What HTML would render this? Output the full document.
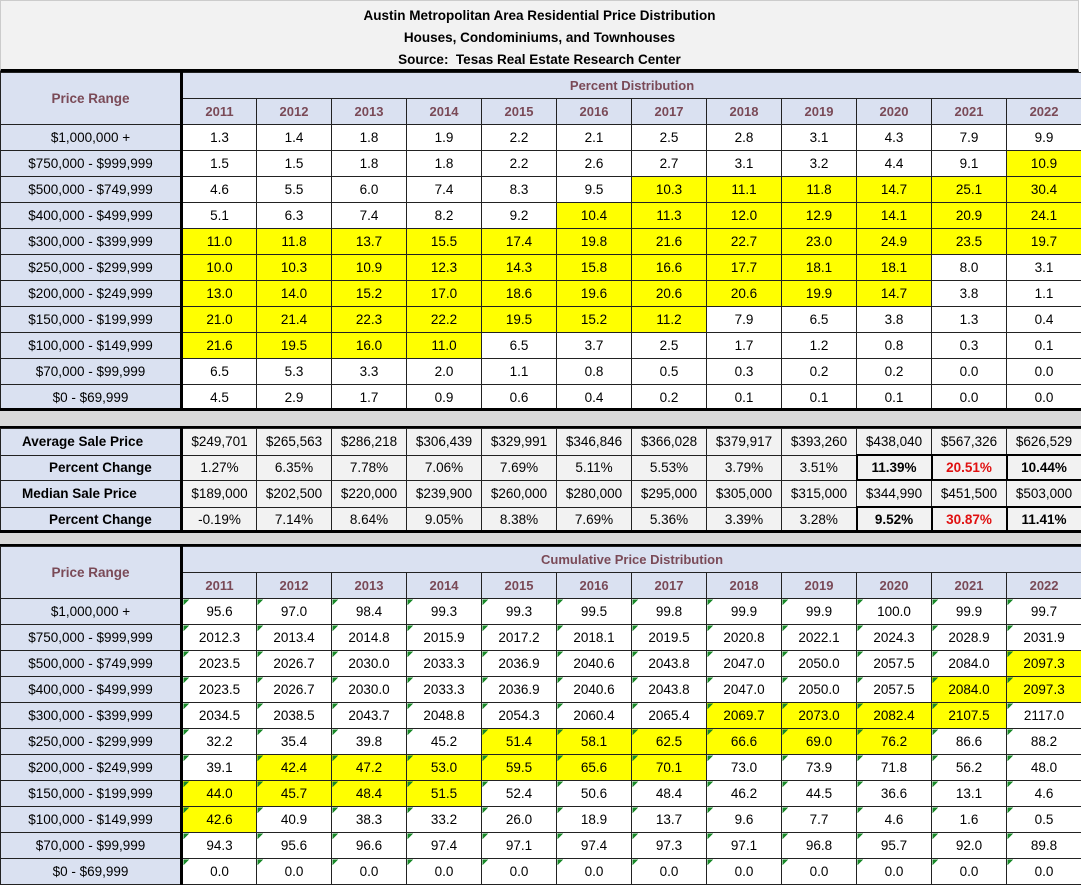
<!DOCTYPE html>
<html><head><meta charset="utf-8"><style>
body{margin:0;background:#fff;width:1081px;height:885px;overflow:hidden;font-family:"Liberation Sans",Arial,sans-serif;}
table{border-collapse:collapse;table-layout:fixed;width:1081px;position:absolute;left:0;}
td{border:1px solid #222;text-align:center;font-size:13.5px;height:25px;padding:0;color:#000;overflow:hidden;white-space:nowrap;}
td.l{background:#dae1f1;border-right:3px solid #000;}
td.h{background:#dae1f1;color:#7a4a57;font-weight:bold;font-size:13px;}
td.y{background:#ffff00;}
td.g{background:#f2f2f2;}
td.b{font-weight:bold;border:2px solid #000;}
td.r{color:#e01010;}
tr.s td{height:23px;}
.c td.d{background-image:linear-gradient(135deg,#1a8a2a 0,#1a8a2a 4px,transparent 4px);}
.title{position:absolute;left:0;top:0;width:1079px;background:#f2f2f2;border:1px solid #ccc;border-bottom:3px solid #000;text-align:center;font-weight:bold;font-size:13.5px;line-height:22px;padding-top:4px;box-sizing:border-box;height:72px;}
.sep{position:absolute;left:0;width:1081px;background:#d9d9d9;border-top:3px solid #000;border-bottom:3px solid #000;box-sizing:border-box;}
</style></head><body>
<div class="title">Austin Metropolitan Area Residential Price Distribution<br>Houses, Condominiums, and Townhouses<br>Source:&nbsp; Tesas Real Estate Research Center</div>

<table style="top:72px">
<colgroup><col style="width:181px"><col span="12" style="width:75px"></colgroup>
<tr><td class="h" rowspan="2" style="border-right:3px solid #000;font-size:13.5px">Price Range</td><td class="h" colspan="12" style="height:25px">Percent Distribution</td></tr>
<tr><td class="h">2011</td><td class="h">2012</td><td class="h">2013</td><td class="h">2014</td><td class="h">2015</td><td class="h">2016</td><td class="h">2017</td><td class="h">2018</td><td class="h">2019</td><td class="h">2020</td><td class="h">2021</td><td class="h">2022</td></tr>
<tr><td class="l">$1,000,000 +</td><td>1.3</td><td>1.4</td><td>1.8</td><td>1.9</td><td>2.2</td><td>2.1</td><td>2.5</td><td>2.8</td><td>3.1</td><td>4.3</td><td>7.9</td><td>9.9</td></tr>
<tr><td class="l">$750,000 - $999,999</td><td>1.5</td><td>1.5</td><td>1.8</td><td>1.8</td><td>2.2</td><td>2.6</td><td>2.7</td><td>3.1</td><td>3.2</td><td>4.4</td><td>9.1</td><td class="y">10.9</td></tr>
<tr><td class="l">$500,000 - $749,999</td><td>4.6</td><td>5.5</td><td>6.0</td><td>7.4</td><td>8.3</td><td>9.5</td><td class="y">10.3</td><td class="y">11.1</td><td class="y">11.8</td><td class="y">14.7</td><td class="y">25.1</td><td class="y">30.4</td></tr>
<tr><td class="l">$400,000 - $499,999</td><td>5.1</td><td>6.3</td><td>7.4</td><td>8.2</td><td>9.2</td><td class="y">10.4</td><td class="y">11.3</td><td class="y">12.0</td><td class="y">12.9</td><td class="y">14.1</td><td class="y">20.9</td><td class="y">24.1</td></tr>
<tr><td class="l">$300,000 - $399,999</td><td class="y">11.0</td><td class="y">11.8</td><td class="y">13.7</td><td class="y">15.5</td><td class="y">17.4</td><td class="y">19.8</td><td class="y">21.6</td><td class="y">22.7</td><td class="y">23.0</td><td class="y">24.9</td><td class="y">23.5</td><td class="y">19.7</td></tr>
<tr><td class="l">$250,000 - $299,999</td><td class="y">10.0</td><td class="y">10.3</td><td class="y">10.9</td><td class="y">12.3</td><td class="y">14.3</td><td class="y">15.8</td><td class="y">16.6</td><td class="y">17.7</td><td class="y">18.1</td><td class="y">18.1</td><td>8.0</td><td>3.1</td></tr>
<tr><td class="l">$200,000 - $249,999</td><td class="y">13.0</td><td class="y">14.0</td><td class="y">15.2</td><td class="y">17.0</td><td class="y">18.6</td><td class="y">19.6</td><td class="y">20.6</td><td class="y">20.6</td><td class="y">19.9</td><td class="y">14.7</td><td>3.8</td><td>1.1</td></tr>
<tr><td class="l">$150,000 - $199,999</td><td class="y">21.0</td><td class="y">21.4</td><td class="y">22.3</td><td class="y">22.2</td><td class="y">19.5</td><td class="y">15.2</td><td class="y">11.2</td><td>7.9</td><td>6.5</td><td>3.8</td><td>1.3</td><td>0.4</td></tr>
<tr><td class="l">$100,000 - $149,999</td><td class="y">21.6</td><td class="y">19.5</td><td class="y">16.0</td><td class="y">11.0</td><td>6.5</td><td>3.7</td><td>2.5</td><td>1.7</td><td>1.2</td><td>0.8</td><td>0.3</td><td>0.1</td></tr>
<tr><td class="l">$70,000 - $99,999</td><td>6.5</td><td>5.3</td><td>3.3</td><td>2.0</td><td>1.1</td><td>0.8</td><td>0.5</td><td>0.3</td><td>0.2</td><td>0.2</td><td>0.0</td><td>0.0</td></tr>
<tr><td class="l">$0 - $69,999</td><td>4.5</td><td>2.9</td><td>1.7</td><td>0.9</td><td>0.6</td><td>0.4</td><td>0.2</td><td>0.1</td><td>0.1</td><td>0.1</td><td>0.0</td><td>0.0</td></tr>
</table>

<div class="sep" style="top:408px;height:21px"></div>

<table style="top:428px">
<colgroup><col style="width:181px"><col span="12" style="width:75px"></colgroup>
<tr><td class="l" style="font-weight:bold;text-align:left;padding-left:21px">Average Sale Price</td><td class="g">$249,701</td><td class="g">$265,563</td><td class="g">$286,218</td><td class="g">$306,439</td><td class="g">$329,991</td><td class="g">$346,846</td><td class="g">$366,028</td><td class="g">$379,917</td><td class="g">$393,260</td><td class="g">$438,040</td><td class="g">$567,326</td><td class="g">$626,529</td></tr>
<tr class="s"><td class="l" style="font-weight:bold;text-align:left;padding-left:48px">Percent Change</td><td class="g">1.27%</td><td class="g">6.35%</td><td class="g">7.78%</td><td class="g">7.06%</td><td class="g">7.69%</td><td class="g">5.11%</td><td class="g">5.53%</td><td class="g">3.79%</td><td class="g">3.51%</td><td class="g b">11.39%</td><td class="g b r">20.51%</td><td class="g b">10.44%</td></tr>
<tr><td class="l" style="font-weight:bold;text-align:left;padding-left:21px">Median Sale Price</td><td class="g">$189,000</td><td class="g">$202,500</td><td class="g">$220,000</td><td class="g">$239,900</td><td class="g">$260,000</td><td class="g">$280,000</td><td class="g">$295,000</td><td class="g">$305,000</td><td class="g">$315,000</td><td class="g">$344,990</td><td class="g">$451,500</td><td class="g">$503,000</td></tr>
<tr class="s"><td class="l" style="font-weight:bold;text-align:left;padding-left:48px">Percent Change</td><td class="g">-0.19%</td><td class="g">7.14%</td><td class="g">8.64%</td><td class="g">9.05%</td><td class="g">8.38%</td><td class="g">7.69%</td><td class="g">5.36%</td><td class="g">3.39%</td><td class="g">3.28%</td><td class="g b">9.52%</td><td class="g b r">30.87%</td><td class="g b">11.41%</td></tr>
</table>

<div class="sep" style="top:530px;height:17px"></div>

<table class="c" style="top:546px">
<colgroup><col style="width:181px"><col span="12" style="width:75px"></colgroup>
<tr><td class="h" rowspan="2" style="border-right:3px solid #000;font-size:13.5px">Price Range</td><td class="h" colspan="12">Cumulative Price Distribution</td></tr>
<tr><td class="h">2011</td><td class="h">2012</td><td class="h">2013</td><td class="h">2014</td><td class="h">2015</td><td class="h">2016</td><td class="h">2017</td><td class="h">2018</td><td class="h">2019</td><td class="h">2020</td><td class="h">2021</td><td class="h">2022</td></tr>
<tr><td class="l">$1,000,000 +</td><td class="d">95.6</td><td class="d">97.0</td><td class="d">98.4</td><td class="d">99.3</td><td class="d">99.3</td><td class="d">99.5</td><td class="d">99.8</td><td class="d">99.9</td><td class="d">99.9</td><td class="d">100.0</td><td class="d">99.9</td><td class="d">99.7</td></tr>
<tr><td class="l">$750,000 - $999,999</td><td class="d">2012.3</td><td class="d">2013.4</td><td class="d">2014.8</td><td class="d">2015.9</td><td class="d">2017.2</td><td class="d">2018.1</td><td class="d">2019.5</td><td class="d">2020.8</td><td class="d">2022.1</td><td class="d">2024.3</td><td class="d">2028.9</td><td class="d">2031.9</td></tr>
<tr><td class="l">$500,000 - $749,999</td><td class="d">2023.5</td><td class="d">2026.7</td><td class="d">2030.0</td><td class="d">2033.3</td><td class="d">2036.9</td><td class="d">2040.6</td><td class="d">2043.8</td><td class="d">2047.0</td><td class="d">2050.0</td><td class="d">2057.5</td><td class="d">2084.0</td><td class="d y">2097.3</td></tr>
<tr><td class="l">$400,000 - $499,999</td><td class="d">2023.5</td><td class="d">2026.7</td><td class="d">2030.0</td><td class="d">2033.3</td><td class="d">2036.9</td><td class="d">2040.6</td><td class="d">2043.8</td><td class="d">2047.0</td><td class="d">2050.0</td><td class="d">2057.5</td><td class="d y">2084.0</td><td class="d y">2097.3</td></tr>
<tr><td class="l">$300,000 - $399,999</td><td class="d">2034.5</td><td class="d">2038.5</td><td class="d">2043.7</td><td class="d">2048.8</td><td class="d">2054.3</td><td class="d">2060.4</td><td class="d">2065.4</td><td class="d y">2069.7</td><td class="d y">2073.0</td><td class="d y">2082.4</td><td class="d y">2107.5</td><td class="d">2117.0</td></tr>
<tr><td class="l">$250,000 - $299,999</td><td class="d">32.2</td><td class="d">35.4</td><td class="d">39.8</td><td class="d">45.2</td><td class="d y">51.4</td><td class="d y">58.1</td><td class="d y">62.5</td><td class="d y">66.6</td><td class="d y">69.0</td><td class="d y">76.2</td><td class="d">86.6</td><td class="d">88.2</td></tr>
<tr><td class="l">$200,000 - $249,999</td><td class="d">39.1</td><td class="d y">42.4</td><td class="d y">47.2</td><td class="d y">53.0</td><td class="d y">59.5</td><td class="d y">65.6</td><td class="d y">70.1</td><td class="d">73.0</td><td class="d">73.9</td><td class="d">71.8</td><td class="d">56.2</td><td class="d">48.0</td></tr>
<tr><td class="l">$150,000 - $199,999</td><td class="d y">44.0</td><td class="d y">45.7</td><td class="d y">48.4</td><td class="d y">51.5</td><td class="d">52.4</td><td class="d">50.6</td><td class="d">48.4</td><td class="d">46.2</td><td class="d">44.5</td><td class="d">36.6</td><td class="d">13.1</td><td class="d">4.6</td></tr>
<tr><td class="l">$100,000 - $149,999</td><td class="d y">42.6</td><td class="d">40.9</td><td class="d">38.3</td><td class="d">33.2</td><td class="d">26.0</td><td class="d">18.9</td><td class="d">13.7</td><td class="d">9.6</td><td class="d">7.7</td><td class="d">4.6</td><td class="d">1.6</td><td class="d">0.5</td></tr>
<tr><td class="l">$70,000 - $99,999</td><td class="d">94.3</td><td class="d">95.6</td><td class="d">96.6</td><td class="d">97.4</td><td class="d">97.1</td><td class="d">97.4</td><td class="d">97.3</td><td class="d">97.1</td><td class="d">96.8</td><td class="d">95.7</td><td class="d">92.0</td><td class="d">89.8</td></tr>
<tr><td class="l">$0 - $69,999</td><td class="d">0.0</td><td class="d">0.0</td><td class="d">0.0</td><td class="d">0.0</td><td class="d">0.0</td><td class="d">0.0</td><td class="d">0.0</td><td class="d">0.0</td><td class="d">0.0</td><td class="d">0.0</td><td class="d">0.0</td><td class="d">0.0</td></tr>
</table>
</body></html>
